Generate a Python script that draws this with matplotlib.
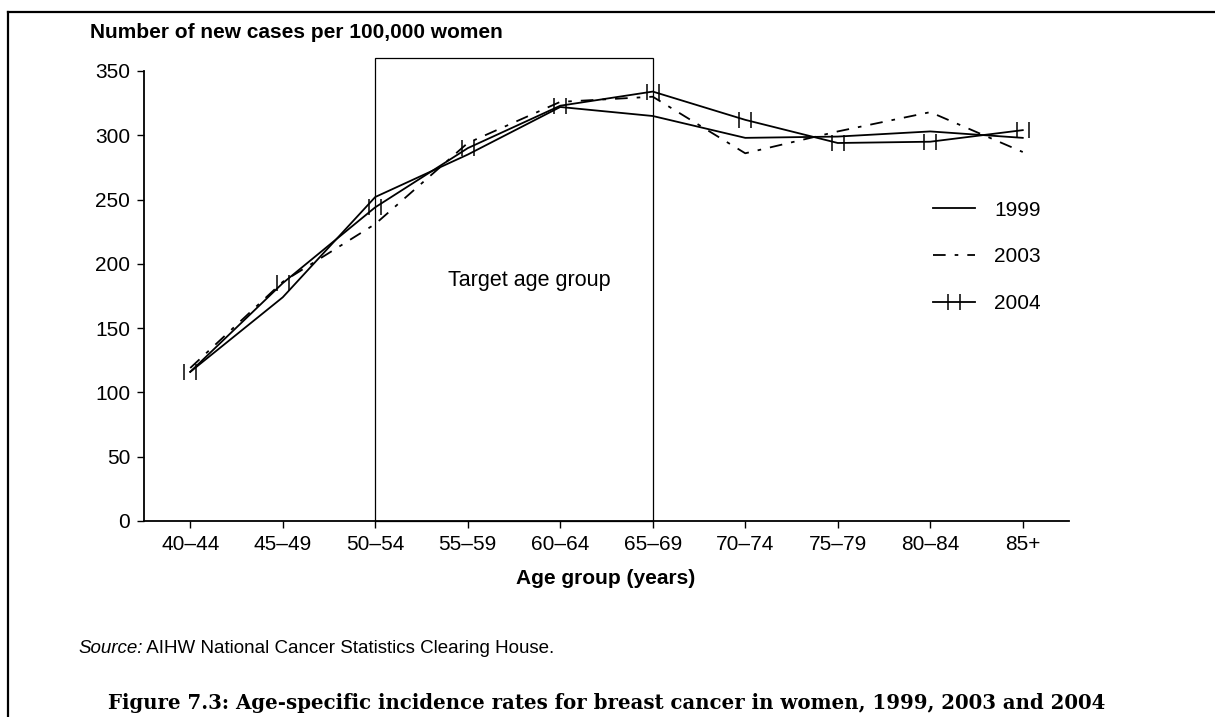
import numpy as np
import matplotlib
matplotlib.use("Agg")
import matplotlib.pyplot as plt
from matplotlib.path import Path
from matplotlib.lines import Line2D
from matplotlib.patches import Rectangle

plt.rcParams['font.family'] = ['Liberation Sans', 'DejaVu Sans']

age_groups = ["40–44", "45–49", "50–54", "55–59", "60–64",
              "65–69", "70–74", "75–79", "80–84", "85+"]
rates_1999 = [116, 174, 252, 285, 322, 315, 298, 299, 303, 298]
rates_2003 = [119, 186, 231, 294, 326, 330, 286, 303, 318, 287]
rates_2004 = [116, 185, 244, 290, 323, 334, 312, 294, 295, 304]
years = ["1999", "2003", "2004"]
target_start, target_end = "50–54", "65–69"
y_ticks = [0, 50, 100, 150, 200, 250, 300, 350]

W, H = 1215, 717
fig = plt.figure(figsize=(W / 100, H / 100), dpi=100)
ax = fig.add_axes([144 / W, 1 - 521 / H, 925 / W, 450 / H])

x = np.arange(len(age_groups))

# "H" shaped marker: two short vertical bars across the line
h_marker = Path([(-0.37, -0.5), (-0.37, 0.5), (0.37, -0.5), (0.37, 0.5)],
                [Path.MOVETO, Path.LINETO, Path.MOVETO, Path.LINETO])

ax.plot(x, rates_1999, color='black', lw=1.3, label=years[0])
ax.plot(x, rates_2003, color='black', lw=1.3, dashes=(7, 5, 2, 5), label=years[1])
ax.plot(x, rates_2004, color='black', lw=1.3, marker=h_marker, markersize=11,
        markeredgewidth=1.1, label=years[2])

# target age group box
i0, i1 = age_groups.index(target_start), age_groups.index(target_end)
ax.add_patch(Rectangle((i0, 0), i1 - i0, 360, fill=False, edgecolor='black',
                       lw=0.9, clip_on=False))
ax.text((i0 + i1) / 2 + 0.17, 187, "Target age group", ha='center', va='center',
        fontsize=15.5)

ax.set_xlim(-0.5, len(age_groups) - 0.5)
ax.set_ylim(0, 350)
ax.set_xticks(x)
ax.set_xticklabels(age_groups)
ax.set_yticks(y_ticks)
ax.tick_params(labelsize=15, length=5, width=1, direction='out', pad=5)
for side in ['top', 'right']:
    ax.spines[side].set_visible(False)
for side in ['left', 'bottom']:
    ax.spines[side].set_linewidth(1.3)

ax.legend(loc='center left', bbox_to_anchor=(0.853, 0.587), frameon=False,
          fontsize=15, handlelength=2.0, handletextpad=0.95,
          labelspacing=1.33, borderpad=0, borderaxespad=0)

fig.text(90 / W, 1 - 33 / H, "Number of new cases per 100,000 women",
         fontsize=15, fontweight='bold', va='center')
fig.text(606 / W, 1 - 578 / H, "Age group (years)", fontsize=15,
         fontweight='bold', ha='center', va='center')

# source note: italic "Source:" followed by plain text on the same baseline
src_y = 1 - 653 / H
src = fig.text(78 / W, src_y, "Source:", fontsize=13.5, style='italic',
               va='baseline')
fig.canvas.draw()
src_end = src.get_window_extent().x1 / W
fig.text(src_end, src_y, " AIHW National Cancer Statistics Clearing House.",
         fontsize=13.5, va='baseline')

fig.text(607 / W, 1 - 703 / H,
         "Figure 7.3: Age-specific incidence rates for breast cancer in women, 1999, 2003 and 2004",
         fontsize=14.2, fontweight='bold', family=['DejaVu Serif'], ha='center',
         va='center')

# page frame
fig.add_artist(Line2D([8 / W, 8 / W], [0, 1 - 12 / H], color='black', lw=1.6))
fig.add_artist(Line2D([8 / W, 1], [1 - 12 / H, 1 - 12 / H], color='black', lw=1.6))

fig.savefig("out.png", dpi=100)
